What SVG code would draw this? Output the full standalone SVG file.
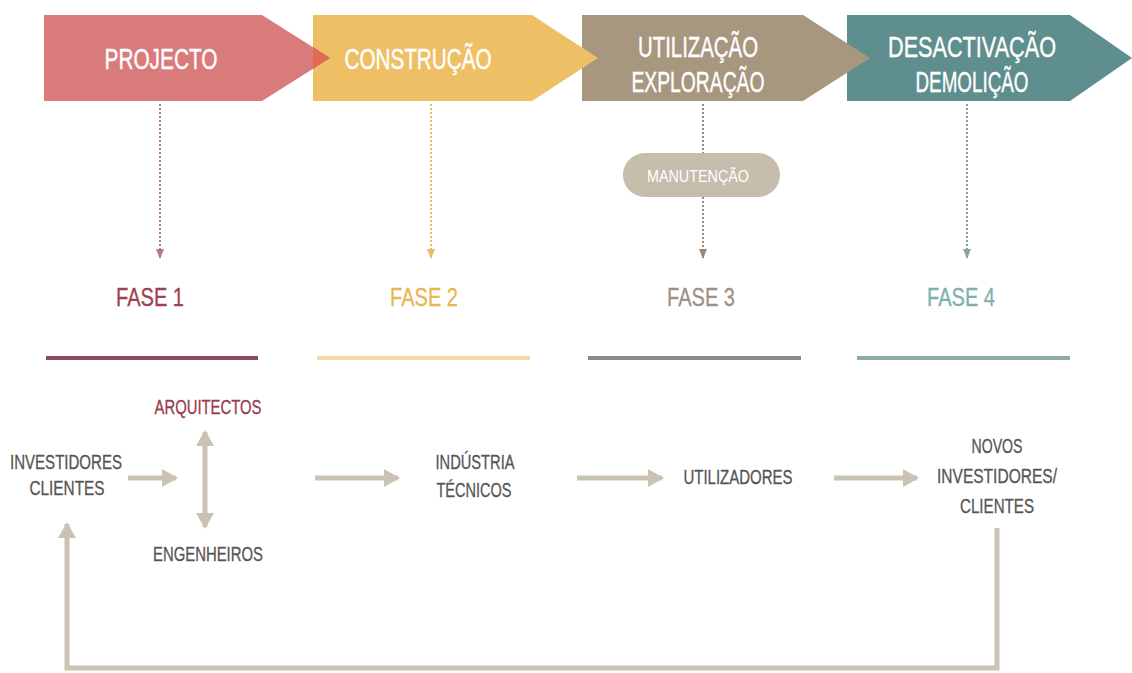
<svg xmlns="http://www.w3.org/2000/svg" width="1132" height="673" viewBox="0 0 1132 673">
<style>
.t{font-family:"Liberation Sans",Arial,sans-serif;text-anchor:middle}
.hd{fill:#ffffff;font-size:30px;stroke:#ffffff;stroke-width:0.4}
.fs{font-size:26px;stroke-width:0.3}
.bt{fill:#555555;font-size:20px;stroke:#555555;stroke-width:0.3}
.dot{fill:none;stroke-width:2;stroke-dasharray:2 2}
.fl{stroke-width:4}
.con{fill:none;stroke:#C9C3B3;stroke-width:5}
</style>
<defs>
<marker id="ah" markerUnits="userSpaceOnUse" markerWidth="16" markerHeight="20" refX="14" refY="10" orient="auto-start-reverse" viewBox="0 0 16 20">
<path d="M0,1 L16,10 L0,19 Z" fill="#C9C3B3"/>
</marker>
<marker id="dr" markerUnits="userSpaceOnUse" markerWidth="10" markerHeight="8" refX="9" refY="4" orient="auto" viewBox="0 0 10 8"><path d="M0,0 L10,4 L0,8 Z" fill="#B87880"/></marker>
<marker id="dy" markerUnits="userSpaceOnUse" markerWidth="10" markerHeight="8" refX="9" refY="4" orient="auto" viewBox="0 0 10 8"><path d="M0,0 L10,4 L0,8 Z" fill="#E8BC66"/></marker>
<marker id="db" markerUnits="userSpaceOnUse" markerWidth="10" markerHeight="8" refX="9" refY="4" orient="auto" viewBox="0 0 10 8"><path d="M0,0 L10,4 L0,8 Z" fill="#9C8878"/></marker>
<marker id="dt" markerUnits="userSpaceOnUse" markerWidth="10" markerHeight="8" refX="9" refY="4" orient="auto" viewBox="0 0 10 8"><path d="M0,0 L10,4 L0,8 Z" fill="#8FA3A3"/></marker>
</defs>
<rect width="1132" height="673" fill="#ffffff"/>

<g id="desactivacao">
<polygon points="847,15 1070,15 1132,58 1070,101 847,101" fill="#5E8E8D"/>
<text class="t hd" x="972" y="57" textLength="168" lengthAdjust="spacingAndGlyphs">DESACTIVAÇÃO</text>
<text class="t hd" x="972" y="92" textLength="113" lengthAdjust="spacingAndGlyphs">DEMOLIÇÃO</text>
</g>
<g id="utilizacao">
<polygon points="582,15 803,15 870,58 803,101 582,101" fill="#A8977F"/>
<text class="t hd" x="698" y="57" textLength="120" lengthAdjust="spacingAndGlyphs">UTILIZAÇÃO</text>
<text class="t hd" x="698" y="92" textLength="133" lengthAdjust="spacingAndGlyphs">EXPLORAÇÃO</text>
</g>
<g id="construcao">
<polygon points="313,15 532,15 598,58 532,101 313,101" fill="#EFBF66"/>
<text class="t hd" x="418" y="69" textLength="147" lengthAdjust="spacingAndGlyphs">CONSTRUÇÃO</text>
</g>
<g id="projecto">
<polygon points="44,15 262,15 330,58 262,101 44,101" fill="#D97A7B"/>
<polygon points="313,47 330,58 313,69" fill="#DE6A58"/>
<text class="t hd" x="161" y="69" textLength="113" lengthAdjust="spacingAndGlyphs">PROJECTO</text>
</g>

<g id="manutencao">
<rect x="623" y="153" width="157" height="44" rx="22" fill="#C7BDAD"/>
<text class="t" x="698" y="182" fill="#ffffff" font-size="17" textLength="102" lengthAdjust="spacingAndGlyphs">MANUTENÇÃO</text>
</g>

<g id="fase1">
<text class="t fs" x="150" y="306" fill="#A0404F" stroke="#A0404F" textLength="68" lengthAdjust="spacingAndGlyphs">FASE 1</text>
<line class="fl" x1="46" y1="358" x2="258" y2="358" stroke="#8E4A58"/>
</g>
<g id="fase2">
<text class="t fs" x="424" y="306" fill="#E9B84F" stroke="#E9B84F" textLength="68" lengthAdjust="spacingAndGlyphs">FASE 2</text>
<line class="fl" x1="317" y1="358" x2="530" y2="358" stroke="#F1DBA3"/>
</g>
<g id="fase3">
<text class="t fs" x="701" y="306" fill="#9C9189" stroke="#9C9189" textLength="68" lengthAdjust="spacingAndGlyphs">FASE 3</text>
<line class="fl" x1="588" y1="358" x2="801" y2="358" stroke="#8A8A8A"/>
</g>
<g id="fase4">
<text class="t fs" x="961" y="306" fill="#7FB0AE" stroke="#7FB0AE" textLength="68" lengthAdjust="spacingAndGlyphs">FASE 4</text>
<line class="fl" x1="857" y1="358" x2="1070" y2="358" stroke="#8FA8A8"/>
</g>

<g id="investidores">
<text class="t bt" x="66" y="469" textLength="112" lengthAdjust="spacingAndGlyphs">INVESTIDORES</text>
<text class="t bt" x="67" y="495" textLength="75" lengthAdjust="spacingAndGlyphs">CLIENTES</text>
</g>
<g id="arquitectos">
<text class="t bt" x="208" y="414" style="fill:#9B3A4A;stroke:#9B3A4A" textLength="107" lengthAdjust="spacingAndGlyphs">ARQUITECTOS</text>
</g>
<g id="engenheiros">
<text class="t bt" x="208" y="561" textLength="110" lengthAdjust="spacingAndGlyphs">ENGENHEIROS</text>
</g>
<g id="industria">
<text class="t bt" x="475" y="469" textLength="79" lengthAdjust="spacingAndGlyphs">INDÚSTRIA</text>
<text class="t bt" x="474" y="497" textLength="75" lengthAdjust="spacingAndGlyphs">TÉCNICOS</text>
</g>
<g id="utilizadores">
<text class="t bt" x="738" y="484" textLength="109" lengthAdjust="spacingAndGlyphs">UTILIZADORES</text>
</g>
<g id="novos">
<text class="t bt" x="997" y="453" textLength="51" lengthAdjust="spacingAndGlyphs">NOVOS</text>
<text class="t bt" x="997" y="483" textLength="120" lengthAdjust="spacingAndGlyphs">INVESTIDORES/</text>
<text class="t bt" x="997" y="513" textLength="74" lengthAdjust="spacingAndGlyphs">CLIENTES</text>
</g>

<g id="connectors">
<line class="dot" x1="160" y1="104" x2="160" y2="258" stroke="#B87880" marker-end="url(#dr)"/>
<line class="dot" x1="431" y1="104" x2="431" y2="258" stroke="#E8BC66" marker-end="url(#dy)"/>
<line class="dot" x1="703" y1="104" x2="703" y2="153" stroke="#9C8878"/>
<line class="dot" x1="703" y1="197" x2="703" y2="258" stroke="#9C8878" marker-end="url(#db)"/>
<line class="dot" x1="967" y1="104" x2="967" y2="258" stroke="#8FA3A3" marker-end="url(#dt)"/>

<line class="con" x1="128" y1="478" x2="176" y2="478" marker-end="url(#ah)"/>
<line class="con" x1="205" y1="432" x2="205" y2="527" marker-start="url(#ah)" marker-end="url(#ah)"/>
<line class="con" x1="315" y1="478" x2="398" y2="478" marker-end="url(#ah)"/>
<line class="con" x1="577" y1="478" x2="662" y2="478" marker-end="url(#ah)"/>
<line class="con" x1="834" y1="478" x2="917" y2="478" marker-end="url(#ah)"/>
<path class="con" d="M997,528 V668 H67 V524" marker-end="url(#ah)"/>
</g>
</svg>
